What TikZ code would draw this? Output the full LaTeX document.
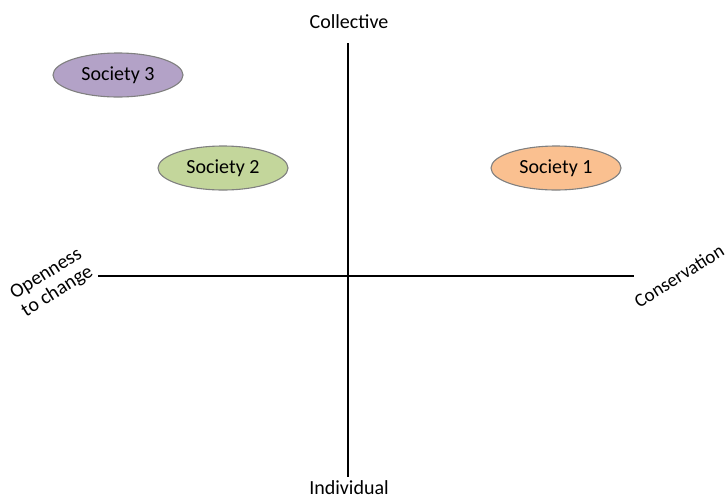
\documentclass[tikz,border=0pt]{standalone}
\usepackage{fontspec}
\setmainfont{Carlito}
\usetikzlibrary{shapes.geometric}
\begin{document}
\begin{tikzpicture}[x=1pt,y=-1pt,
  axis/.style={line width=2.4pt,black},
  society/.style={ellipse,draw=black!50,line width=1.1pt,minimum width=130pt,minimum height=44pt,inner sep=0pt,font=\fontsize{20}{22}\selectfont},
  lbl/.style={font=\fontsize{20}{21}\selectfont,inner sep=0pt}]
\useasboundingbox (0,0) rectangle (728,499);
% axes
\coordinate (top) at (348,43);
\coordinate (bot) at (348,477);
\coordinate (left) at (98,276);
\coordinate (right) at (634,276);
\draw[axis] (top) -- (bot);
\draw[axis] (left) -- (right);
% axis labels
\node[lbl] (collective) at (349,22) {Collective};
\node[lbl] (individual) at (349,488) {Individual};
\node[lbl,rotate=32,align=center] (openness) at (52,283) {Openness\\to change};
\node[lbl,rotate=32,font=\fontsize{19}{20}\selectfont] (conservation) at (679,276) {Conservation};
% societies
\node[society,fill={rgb,255:red,179;green,162;blue,199}] (s3) at (118,75) {Society 3};
\node[society,fill={rgb,255:red,195;green,214;blue,155}] (s2) at (223,168) {Society 2};
\node[society,fill={rgb,255:red,250;green,192;blue,144}] (s1) at (556,168) {Society 1};
\end{tikzpicture}
\end{document}
